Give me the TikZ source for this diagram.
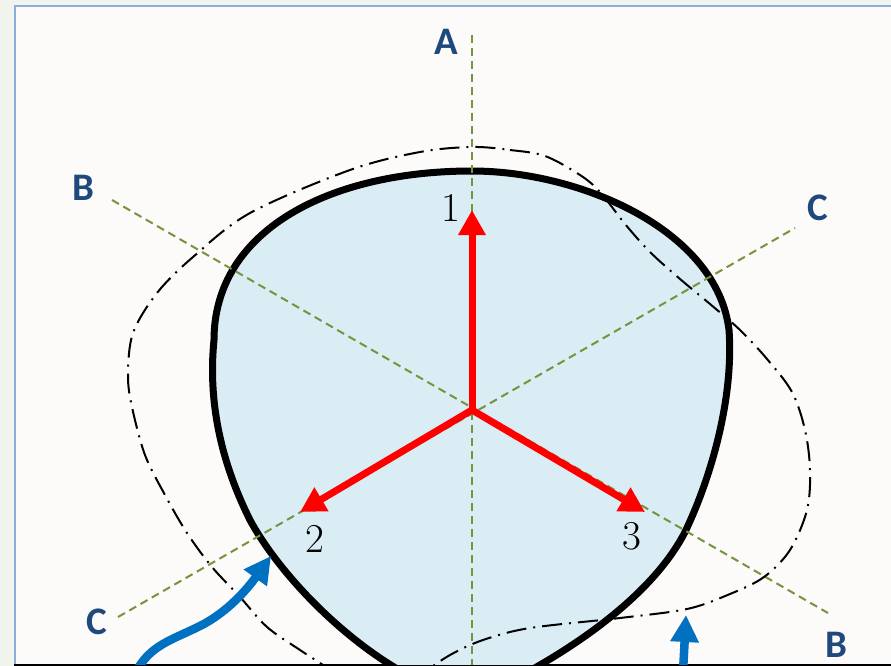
\documentclass[tikz,border=0pt]{standalone}
\usepackage{fontspec}
\newfontfamily\labfont{Carlito}
\usetikzlibrary{arrows.meta}
\definecolor{bgout}{HTML}{F1F4EC}
\definecolor{frameblue}{HTML}{8EAEDA}
\definecolor{paper}{HTML}{FCFBFA}
\definecolor{blobfill}{HTML}{DAEDF4}
\definecolor{axisgreen}{HTML}{77933C}
\definecolor{labblue}{HTML}{1F497D}
\definecolor{arrowblue}{HTML}{0070C0}
\begin{document}
\begin{tikzpicture}[x=1pt,y=-1pt,
  axisline/.style={draw=axisgreen,line width=2pt,dash pattern=on 8pt off 5pt},
  axislabel/.style={text=labblue,font=\labfont\bfseries\fontsize{39}{39}\selectfont,inner sep=0pt},
  numlabel/.style={font=\fontsize{41}{41}\selectfont,inner sep=0pt},
  force/.style={draw=red,line width=7pt,-{Triangle[width=26pt,length=25pt]}},
  flow/.style={draw=arrowblue,line width=8.5pt,-{Triangle[width=27pt,length=27pt]}},
  blob/.style={draw=black,line width=7pt,fill=blobfill},
  outline/.style={draw=black,line width=2pt,dash pattern=on 20pt off 7pt on 2pt off 7pt}
]
\useasboundingbox (0,0) rectangle (891,666);
% page background and frame
\fill[bgout] (0,0) rectangle (891,666);
\fill[paper] (15,6) rectangle (891,664);
\draw[frameblue,line width=2pt] (15,666) -- (15,6) -- (891,6);
\draw[black,line width=2pt] (14,665) -- (891,665);

% coordinates
\coordinate (O) at (472,410);
\coordinate (Atop) at (472,35);
\coordinate (Abot) at (472,670);
\coordinate (Bul) at (112,200);
\coordinate (Blr) at (828,613);
\coordinate (Cur) at (795,228);
\coordinate (Cll) at (118,617);
\coordinate (t1) at (472,210);
\coordinate (t2) at (300,512);
\coordinate (t3) at (645,512);
\coordinate (f1s) at (136,672);
\coordinate (f1m) at (200,626);
\coordinate (f1e) at (271,556);
\coordinate (f2s) at (683,672);
\coordinate (f2e) at (686,615);

\begin{scope}
\clip (16,7) rectangle (891,664);
% cross-section
\path[blob] (472,171) .. controls (580,171) and (717,230) .. (729,330)
  .. controls (734,400) and (710,480) .. (685,532)
  .. controls (650,600) and (560,660) .. (472,700)
  .. controls (380,680) and (285,585) .. (250,520)
  .. controls (220,460) and (208,400) .. (214,340)
  .. controls (214,230) and (330,171) .. (472,171) -- cycle;
% axes
\draw[axisline] (Atop) -- (Abot);
\draw[axisline] (Bul) -- (Blr);
\draw[axisline] (Cll) -- (Cur);
% deformed outline
\draw[outline] plot[smooth cycle,tension=0.55] coordinates {
  (472,147) (510,150) (545,156) (580,175) (600,192) (625,224) (650,252)
  (680,279) (710,304) (740,330) (767,359) (792,392) (805,430) (810,470)
  (807,510) (790,550) (764,577) (730,594) (687,609) (620,618) (530,628)
  (483,640) (450,655) (420,675) (380,700) (345,680) (320,663) (300,650)
  (267,627) (240,597) (212,567) (187,533) (165,495) (145,455) (132,407)
  (128,375) (133,333) (157,293) (193,257) (250,213) (350,170) (420,152)};
% forces
\draw[force] (O) -- (t1);
\draw[force] (O) -- (t2);
\draw[force] (O) -- (t3);
% flows
\draw[flow] (f1s) .. controls (150,645) and (172,640) .. (f1m)
  .. controls (228,612) and (248,588) .. (f1e);
\draw[flow] (f2s) -- (f2e);
\end{scope}

% labels
\node[axislabel] (lA) at (446,42) {A};
\node[axislabel] (lB1) at (83,188) {B};
\node[axislabel] (lC1) at (818,208) {C};
\node[axislabel] (lC2) at (97,622) {C};
\node[axislabel] (lB2) at (836,645) {B};
\node[numlabel] (n1) at (451,208) {1};
\node[numlabel] (n2) at (315,539) {2};
\node[numlabel] (n3) at (632,536) {3};
\end{tikzpicture}
\end{document}
